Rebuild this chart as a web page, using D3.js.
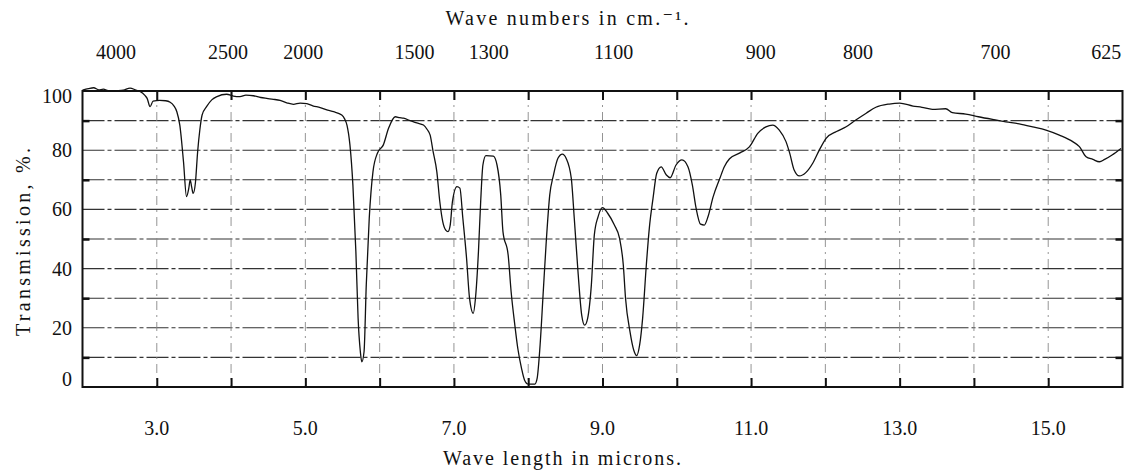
<!DOCTYPE html>
<html><head><meta charset="utf-8">
<script src="https://cdn.jsdelivr.net/npm/d3@7/dist/d3.min.js"></script>
<style>
html,body{margin:0;padding:0;background:#fff;}
svg{display:block;}
text{font-family:"Liberation Serif","DejaVu Serif",serif;fill:#111;}
</style></head>
<body>
<svg id="chart" width="1134" height="470"></svg>
<script>
// ---- data ----
const wavelength = [2.00,2.08,2.15,2.22,2.28,2.36,2.46,2.55,2.64,2.72,2.78,2.84,2.87,2.91,2.95,3.04,3.12,3.18,3.23,3.27,3.31,3.36,3.40,3.43,3.45,3.47,3.49,3.52,3.55,3.58,3.61,3.67,3.74,3.81,3.94,4.03,4.12,4.20,4.30,4.40,4.48,4.57,4.66,4.75,4.84,4.93,5.02,5.10,5.20,5.30,5.38,5.49,5.53,5.56,5.60,5.64,5.68,5.71,5.74,5.76,5.79,5.82,5.86,5.91,5.97,6.05,6.12,6.21,6.27,6.32,6.41,6.50,6.59,6.64,6.68,6.72,6.77,6.81,6.85,6.89,6.92,6.95,6.98,7.04,7.08,7.12,7.17,7.21,7.26,7.29,7.33,7.36,7.39,7.43,7.53,7.58,7.63,7.66,7.73,7.77,7.82,7.86,7.91,7.95,8.00,8.09,8.12,8.16,8.20,8.24,8.29,8.34,8.40,8.46,8.51,8.58,8.62,8.67,8.72,8.76,8.80,8.85,8.89,8.94,9.00,9.07,9.16,9.23,9.28,9.31,9.37,9.42,9.46,9.50,9.54,9.59,9.63,9.68,9.73,9.79,9.86,9.91,9.99,10.07,10.15,10.21,10.26,10.32,10.37,10.42,10.49,10.58,10.64,10.71,10.85,10.98,11.09,11.20,11.29,11.38,11.47,11.52,11.58,11.65,11.74,11.83,11.92,12.01,12.15,12.28,12.41,12.55,12.68,12.86,13.00,13.18,13.30,13.44,13.62,13.71,13.89,14.06,14.25,14.43,14.61,14.79,14.97,15.15,15.33,15.42,15.51,15.60,15.69,15.76,15.86,15.98];
const transmission = [100.3,100.8,101.1,100.4,100.6,100.0,100.1,100.3,101.0,100.3,99.8,98.5,97.5,94.7,96.6,96.8,96.7,96.2,95.0,93.0,88.5,76.0,64.3,67.0,70.0,67.5,65.4,69.0,79.5,87.0,91.9,94.7,97.0,98.1,98.9,98.3,98.1,98.6,98.4,97.8,97.5,97.2,96.8,96.0,95.5,95.9,95.7,95.0,94.4,93.5,93.0,91.9,90.5,88.5,81.8,68.2,45.7,23.2,12.0,8.5,11.9,34.5,57.0,72.7,79.0,81.8,87.4,91.3,91.0,90.8,90.0,89.2,88.5,87.0,85.1,79.5,72.7,62.6,55.8,53.0,52.5,54.7,62.6,67.7,67.2,57.0,43.5,30.0,24.9,30.0,45.7,62.6,75.0,78.2,78.0,75.0,64.9,52.5,44.6,32.2,20.9,13.0,6.3,2.4,1.0,1.0,2.9,14.2,31.1,48.0,64.9,71.6,77.3,78.7,77.3,70.5,57.0,39.0,24.3,20.9,23.2,34.5,51.4,57.5,60.6,58.7,54.7,50.2,41.2,30.0,18.7,12.5,10.6,14.2,23.2,41.2,53.6,63.7,72.2,74.4,71.6,70.7,75.0,76.7,74.4,68.2,60.4,55.0,54.7,57.5,64.3,70.5,74.4,77.1,79.1,81.2,85.7,87.9,88.5,86.8,82.9,79.0,73.3,71.3,72.5,75.6,80.1,84.0,86.3,87.9,90.2,92.5,94.5,95.6,95.9,94.9,94.5,93.8,94.0,92.7,92.2,91.3,90.4,89.6,88.9,87.9,86.8,85.1,82.9,81.2,77.8,76.9,76.1,76.9,78.4,80.6];
const bottomTickLabels = ["3.0","5.0","7.0","9.0","11.0","13.0","15.0"];
const bottomTickValues = [3,5,7,9,11,13,15];
const minorTickValues = [3,4,5,6,7,8,9,10,11,12,13,14,15];
const topTickLabels = ["4000","2500","2000","1500","1300","1100","900","800","700","625"];
const topLabelMicrons = [2.45,3.96,4.97,6.47,7.47,9.15,11.13,12.44,14.29,15.78];
const yTickLabels = ["100","80","60","40","20","0"];
const yTickValues = [100,80,60,40,20,0];
const yGridValues = [10,20,30,40,50,60,70,80,90];
const ySideTickValues = [10,30,50,70,90];

// ---- layout ----
const svg = d3.select("#chart");
const L = 82.5, R = 1122.5, T = 91, B = 387;
const x = d3.scaleLinear().domain([2,16]).range([L,R]);
const y = d3.scaleLinear().domain([0,100]).range([B,T]);

// grid: horizontal
svg.append("g").selectAll("line").data(yGridValues).join("line")
  .attr("x1",L).attr("x2",R).attr("y1",d=>y(d)).attr("y2",d=>y(d))
  .attr("stroke","#333").attr("stroke-width",1.1)
  .attr("stroke-dasharray","22,3,4,3");
// grid: vertical
svg.append("g").selectAll("line").data(minorTickValues).join("line")
  .attr("y1",T).attr("y2",B).attr("x1",d=>x(d)).attr("x2",d=>x(d))
  .attr("stroke","#888").attr("stroke-width",0.9)
  .attr("stroke-dasharray","9,5,2,5");

// bottom axis (inner ticks)
const bAxis = d3.axisBottom(x).tickValues(minorTickValues).tickSize(-9).tickFormat("");
const bg = svg.append("g").attr("transform",`translate(0,${B})`).call(bAxis);
bg.select(".domain").remove();
bg.selectAll(".tick line").attr("stroke","#111").attr("stroke-width",2);
// top axis (inner ticks)
const tAxis = d3.axisTop(x).tickValues(minorTickValues).tickSize(-9).tickFormat("");
const tg = svg.append("g").attr("transform",`translate(0,${T})`).call(tAxis);
tg.select(".domain").remove();
tg.selectAll(".tick line").attr("stroke","#111").attr("stroke-width",2);
// left/right side ticks
const lAxis = d3.axisLeft(y).tickValues(ySideTickValues).tickSize(-7).tickFormat("");
const lg = svg.append("g").attr("transform",`translate(${L},0)`).call(lAxis);
lg.select(".domain").remove();
lg.selectAll(".tick line").attr("stroke","#111").attr("stroke-width",2.5);
const rAxis = d3.axisRight(y).tickValues(ySideTickValues).tickSize(-7).tickFormat("");
const rg = svg.append("g").attr("transform",`translate(${R},0)`).call(rAxis);
rg.select(".domain").remove();
rg.selectAll(".tick line").attr("stroke","#111").attr("stroke-width",2.5);

// frame
svg.append("rect").attr("x",L).attr("y",T).attr("width",R-L).attr("height",B-T)
  .attr("fill","none").attr("stroke","#111").attr("stroke-width",2);

// spectrum
const pts = wavelength.map((w,i)=>[w,transmission[i]]);
const line = d3.line().x(d=>x(d[0])).y(d=>y(d[1])).curve(d3.curveMonotoneX);
svg.append("path").attr("d",line(pts)).attr("fill","none")
  .attr("stroke","#111").attr("stroke-width",1.3).attr("stroke-linejoin","round");

// bottom labels
svg.append("g").selectAll("text").data(bottomTickValues).join("text")
  .attr("x",d=>x(d)).attr("y",435).attr("text-anchor","middle")
  .attr("font-size",20).text((d,i)=>bottomTickLabels[i]);
// top labels
svg.append("g").selectAll("text").data(topLabelMicrons).join("text")
  .attr("x",d=>x(d)).attr("y",59).attr("text-anchor","middle")
  .attr("font-size",20).text((d,i)=>topTickLabels[i]);
// y labels
svg.append("g").selectAll("text").data(yTickValues).join("text")
  .attr("x",72).attr("y",d=>y(d) + (d===100?12:(d===0?-1:7)))
  .attr("text-anchor","end").attr("font-size",20).text((d,i)=>yTickLabels[i]);

// titles
svg.append("text").attr("x",567).attr("y",25).attr("text-anchor","middle")
  .attr("font-size",20).attr("textLength",243).attr("lengthAdjust","spacing")
  .text("Wave numbers in cm.\u207B\u00B9.");
svg.append("text").attr("x",562).attr("y",465).attr("text-anchor","middle")
  .attr("font-size",20).attr("textLength",238).attr("lengthAdjust","spacing")
  .text("Wave length in microns.");
svg.append("text").attr("transform","translate(30,242) rotate(-90)")
  .attr("text-anchor","middle").attr("font-size",20)
  .attr("textLength",188).attr("lengthAdjust","spacing")
  .text("Transmission, %.");
</script>
</body></html>
